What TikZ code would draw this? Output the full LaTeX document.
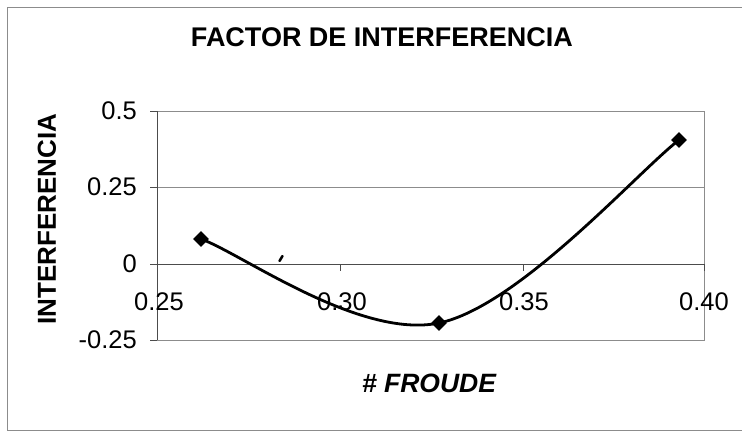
\documentclass[tikz,border=0pt]{standalone}
\usepackage{fontspec}
\setmainfont{Liberation Sans}
\usetikzlibrary{shapes.geometric}
\begin{document}
\begin{tikzpicture}[x=1pt,y=-1pt,
  lbl/.style={font=\fontsize{25.5}{26}\selectfont, inner sep=0pt},
  blbl/.style={font=\fontsize{26}{26}\selectfont\bfseries, inner sep=0pt},
  grid/.style={draw=black!45, line width=0.9pt},
  axisline/.style={draw=black!70, line width=1pt},
  frame/.style={draw=black!45, line width=1pt},
  mk/.style={diamond, fill=black, inner sep=0pt, minimum width=16pt, minimum height=16pt},
  curve/.style={line width=2.8pt, black}]
\useasboundingbox (0,0) rectangle (742,431);
\draw[frame] (7,7) -- (746,7);
\draw[frame] (7,7) -- (7,430) -- (746,430);
% plot area
\coordinate (pTL) at (157,111);
\coordinate (pTR) at (704,111);
\coordinate (pBL) at (157,340);
\coordinate (pBR) at (704,340);
\draw[grid] (pTL) -- (pTR) -- (pBR) -- (pBL);
\draw[grid] (157,187) -- (704,187);
\coordinate (ax0) at (157,264);
\coordinate (ax1) at (704,264);
\draw[axisline] (ax0) -- (ax1);
\draw[axisline] (pTL) -- (pBL);
% y ticks
\foreach \y in {111,187,264,340} \draw[axisline] (150,\y) -- (157,\y);
% x ticks
\foreach \x in {157,340,523,704} \draw[axisline] (\x,264) -- (\x,271);
% y labels
\node[lbl, anchor=east] (y1) at (137,111) {0.5};
\node[lbl, anchor=east] (y2) at (137,187) {0.25};
\node[lbl, anchor=east] (y3) at (137,264) {0};
\node[lbl, anchor=east] (y4) at (137,340) {-0.25};
% x labels
\node[lbl] (x1) at (159,302) {0.25};
\node[lbl] (x2) at (342,302) {0.30};
\node[lbl] (x3) at (524,302) {0.35};
\node[lbl] (x4) at (704,302) {0.40};
% titles
\node[blbl, font=\fontsize{27}{27}\selectfont\bfseries] (title) at (382,37) {FACTOR DE INTERFERENCIA};
\node[blbl, rotate=90] (ytitle) at (47,219) {INTERFERENCIA};
\node[blbl, font=\fontsize{26.5}{27}\selectfont\bfseries\itshape] (xtitle) at (429,383) {\# FROUDE};
% data
\coordinate (p0) at (201,239);
\coordinate (p1) at (439,323);
\coordinate (p2) at (679,140);
\draw[curve] (p0) .. controls (240.7,253) and (359.3,339.5) .. (p1)
             .. controls (518.7,306.5) and (639,170.5) .. (p2);
\node[mk] (m0) at (p0) {};
\node[mk] (m1) at (p1) {};
\node[mk] (m2) at (p2) {};
% stray mark
\draw[line width=2.5pt, line cap=round] (279.5,261) -- (282.5,256);
\end{tikzpicture}
\end{document}
